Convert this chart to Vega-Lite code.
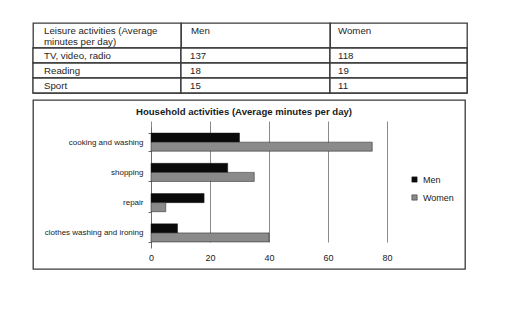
{
  "$schema": "https://vega.github.io/schema/vega-lite/v6.json",
  "padding": {"left": 31, "top": 22, "right": 0, "bottom": 0},
  "spacing": 0,
  "background": "white",
  "resolve": {"legend": {"color": "independent"}},
  "datasets": {
    "leisureHeader": [
      {"column": "activity", "label": "Leisure activities (Average\nminutes per day)"},
      {"column": "Men", "label": "Men"},
      {"column": "Women", "label": "Women"}
    ],
    "leisure": [
      {"activity": "TV, video, radio", "Men": 137, "Women": 118},
      {"activity": "Reading", "Men": 18, "Women": 19},
      {"activity": "Sport", "Men": 15, "Women": 11}
    ],
    "household": [
      {"activity": "cooking and washing", "sex": "Men", "minutes": 30},
      {"activity": "cooking and washing", "sex": "Women", "minutes": 75},
      {"activity": "shopping", "sex": "Men", "minutes": 26},
      {"activity": "shopping", "sex": "Women", "minutes": 35},
      {"activity": "repair", "sex": "Men", "minutes": 18},
      {"activity": "repair", "sex": "Women", "minutes": 5},
      {"activity": "clothes washing and ironing", "sex": "Men", "minutes": 9},
      {"activity": "clothes washing and ironing", "sex": "Women", "minutes": 40}
    ]
  },
  "config": {
    "font": "Liberation Sans",
    "view": {"stroke": "#3a3a3a", "strokeWidth": 1.3},
    "text": {"font": "Liberation Sans", "fontSize": 9.7, "color": "#1e1e1e", "align": "left"}
  },
  "vconcat": [
    {
      "columns": 3,
      "spacing": 0,
      "bounds": "flush",
      "concat": [
        {
          "width": 148, "height": 25,
          "data": {"name": "leisureHeader"},
          "transform": [{"filter": {"field": "column", "equal": "activity"}}],
          "mark": {"type": "text", "baseline": "top", "dy": -9.5, "dx": 11, "lineBreak": "\n", "lineHeight": 10.5},
          "encoding": {
            "x": {"field": "column", "type": "nominal", "scale": {"type": "point", "padding": 0, "align": 0}, "axis": null},
            "text": {"field": "label"}
          }
        },
        {
          "width": 149, "height": 25,
          "data": {"name": "leisureHeader"},
          "transform": [{"filter": {"field": "column", "equal": "Men"}}],
          "mark": {"type": "text", "baseline": "top", "dy": -9.5, "dx": 10},
          "encoding": {
            "x": {"field": "column", "type": "nominal", "scale": {"type": "point", "padding": 0, "align": 0}, "axis": null},
            "text": {"field": "label"}
          }
        },
        {
          "width": 137, "height": 25,
          "data": {"name": "leisureHeader"},
          "transform": [{"filter": {"field": "column", "equal": "Women"}}],
          "mark": {"type": "text", "baseline": "top", "dy": -9.5, "dx": 8},
          "encoding": {
            "x": {"field": "column", "type": "nominal", "scale": {"type": "point", "padding": 0, "align": 0}, "axis": null},
            "text": {"field": "label"}
          }
        },
        {
          "width": 148, "height": 45,
          "data": {"name": "leisure"},
          "transform": [{"fold": ["activity"], "as": ["col", "value"]}],
          "encoding": {
            "y": {"field": "activity", "type": "nominal", "sort": null, "scale": {"paddingInner": 0, "paddingOuter": 0}, "axis": null}
          },
          "layer": [
            {"mark": {"type": "rect", "fill": "white", "stroke": "#3a3a3a", "strokeWidth": 1.3}},
            {
              "mark": {"type": "text", "baseline": "middle", "dx": 11},
              "encoding": {
                "x": {"field": "col", "type": "nominal", "scale": {"type": "point", "padding": 0, "align": 0}, "axis": null},
                "text": {"field": "value"}
              }
            }
          ]
        },
        {
          "width": 149, "height": 45,
          "data": {"name": "leisure"},
          "transform": [{"fold": ["Men"], "as": ["col", "value"]}],
          "encoding": {
            "y": {"field": "activity", "type": "nominal", "sort": null, "scale": {"paddingInner": 0, "paddingOuter": 0}, "axis": null}
          },
          "layer": [
            {"mark": {"type": "rect", "fill": "white", "stroke": "#3a3a3a", "strokeWidth": 1.3}},
            {
              "mark": {"type": "text", "baseline": "middle", "dx": 9},
              "encoding": {
                "x": {"field": "col", "type": "nominal", "scale": {"type": "point", "padding": 0, "align": 0}, "axis": null},
                "text": {"field": "value"}
              }
            }
          ]
        },
        {
          "width": 137, "height": 45,
          "data": {"name": "leisure"},
          "transform": [{"fold": ["Women"], "as": ["col", "value"]}],
          "encoding": {
            "y": {"field": "activity", "type": "nominal", "sort": null, "scale": {"paddingInner": 0, "paddingOuter": 0}, "axis": null}
          },
          "layer": [
            {"mark": {"type": "rect", "fill": "white", "stroke": "#3a3a3a", "strokeWidth": 1.3}},
            {
              "mark": {"type": "text", "baseline": "middle", "dx": 8},
              "encoding": {
                "x": {"field": "col", "type": "nominal", "scale": {"type": "point", "padding": 0, "align": 0}, "axis": null},
                "text": {"field": "value"}
              }
            }
          ]
        }
      ]
    },
    {
      "width": 432, "height": 169,
      "data": {"name": "household"},
      "title": {"text": "Household activities (Average minutes per day)", "fontSize": 9.6, "fontWeight": "bold", "color": "#1a1a1a", "anchor": "middle", "offset": 0, "baseline": "middle", "dy": 25.5, "dx": -5},
      "mark": {"type": "bar", "stroke": "#1a1a1a", "strokeWidth": 0.5},
      "encoding": {
        "x": {"field": "minutes", "type": "quantitative",
              "scale": {"domain": [0, 80], "range": [118, 354], "nice": false},
              "axis": {"orient": "bottom", "offset": -21, "values": [0, 20, 40, 60, 80], "grid": true, "gridColor": "#8a8a8a", "gridWidth": 1, "gridOpacity": 1,
                       "domain": false, "ticks": false, "labelFlush": false, "labelPadding": 5, "labelFontSize": 9, "labelColor": "#1a1a1a", "title": null}},
        "y": {"field": "activity", "type": "nominal",
              "sort": ["cooking and washing", "shopping", "repair", "clothes washing and ironing"],
              "scale": {"range": [27, 148], "paddingInner": 0.4, "paddingOuter": 0.2},
              "axis": {"orient": "left", "offset": -118, "tickBand": "extent", "tickSize": 3, "tickColor": "#6a6a6a", "domainColor": "#6a6a6a",
                       "labelPadding": 5, "labelFontSize": 8, "labelColor": "#1a1a1a", "grid": false, "title": null}},
        "yOffset": {"field": "sex", "type": "nominal", "sort": ["Men", "Women"]},
        "color": {"field": "sex", "type": "nominal",
                  "scale": {"domain": ["Men", "Women"], "range": ["#0a0a0a", "#8a8a8a"]},
                  "legend": {"orient": "none", "legendX": 377, "legendY": 75, "title": null, "symbolType": "square", "symbolSize": 28,
                             "symbolStrokeColor": "#1a1a1a", "symbolStrokeWidth": 0.5, "labelFontSize": 9, "labelColor": "#1a1a1a",
                             "labelOffset": 4, "rowPadding": 8, "padding": 0}}
      }
    }
  ]
}
